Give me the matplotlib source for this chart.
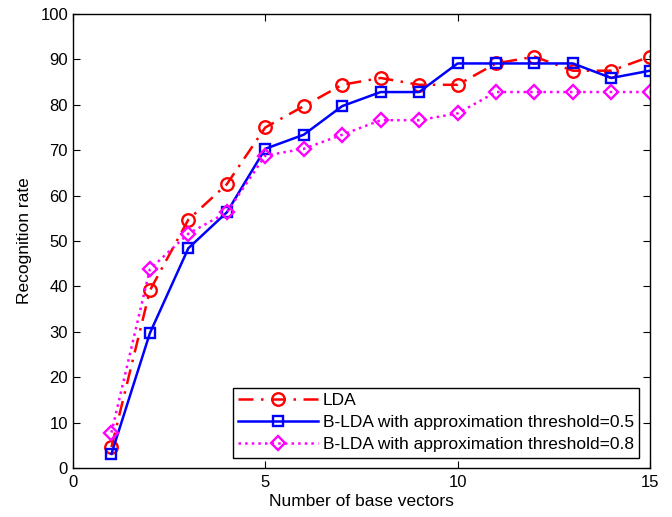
import matplotlib
matplotlib.use("Agg")
import matplotlib.pyplot as plt

plt.rcParams['font.family'] = ['Liberation Sans', 'DejaVu Sans']

n_vectors = list(range(1, 16))
lda = [4.6, 39.1, 54.7, 62.5, 75.0, 79.7, 84.4, 85.9, 84.4, 84.4, 89.1, 90.6, 87.5, 87.5, 90.6]
blda_05 = [3.1, 29.7, 48.4, 56.3, 70.3, 73.4, 79.7, 82.8, 82.8, 89.1, 89.1, 89.1, 89.1, 85.9, 87.5]
blda_08 = [7.8, 43.8, 51.6, 56.3, 68.8, 70.3, 73.4, 76.6, 76.6, 78.1, 82.8, 82.8, 82.8, 82.8, 82.8]

fig = plt.figure(figsize=(6.72, 5.17), dpi=100)
ax = fig.add_axes([0.1086, 0.0948, 0.8584, 0.8782])

ax.plot(n_vectors, lda, color='red', linestyle='-.', linewidth=1.8, marker='o',
        markersize=9, markerfacecolor='none', markeredgewidth=1.7, label='LDA',
        dashes=(6, 3, 1, 3))
ax.plot(n_vectors, blda_05, color='blue', linestyle='-', linewidth=1.8, marker='s',
        markersize=7.5, markerfacecolor='none', markeredgewidth=1.7,
        label='B-LDA with approximation threshold=0.5')
ax.plot(n_vectors, blda_08, color='magenta', linestyle=':', linewidth=1.8, marker='D',
        markersize=7.5, markerfacecolor='none', markeredgewidth=1.7,
        label='B-LDA with approximation threshold=0.8')

ax.set_xlim(0, 15)
ax.set_ylim(0, 100)
ax.set_xticks([0, 5, 10, 15])
ax.set_yticks(range(0, 101, 10))
ax.tick_params(direction='in', top=True, right=True, labelsize=12, length=5)
ax.tick_params(axis='x', pad=5)
for s in ax.spines.values():
    s.set_linewidth(1.0)

ax.set_xlabel('Number of base vectors', fontsize=12.5, labelpad=3)
ax.set_ylabel('Recognition rate', fontsize=12.5, labelpad=6)

leg = ax.legend(loc='lower right', fontsize=12.5, fancybox=False, framealpha=1,
                edgecolor='black', borderaxespad=0.6, handlelength=4.6,
                labelspacing=0.4, borderpad=0.3, handletextpad=0.3)
leg.get_frame().set_linewidth(1.0)

fig.savefig('out.png', dpi=100)
